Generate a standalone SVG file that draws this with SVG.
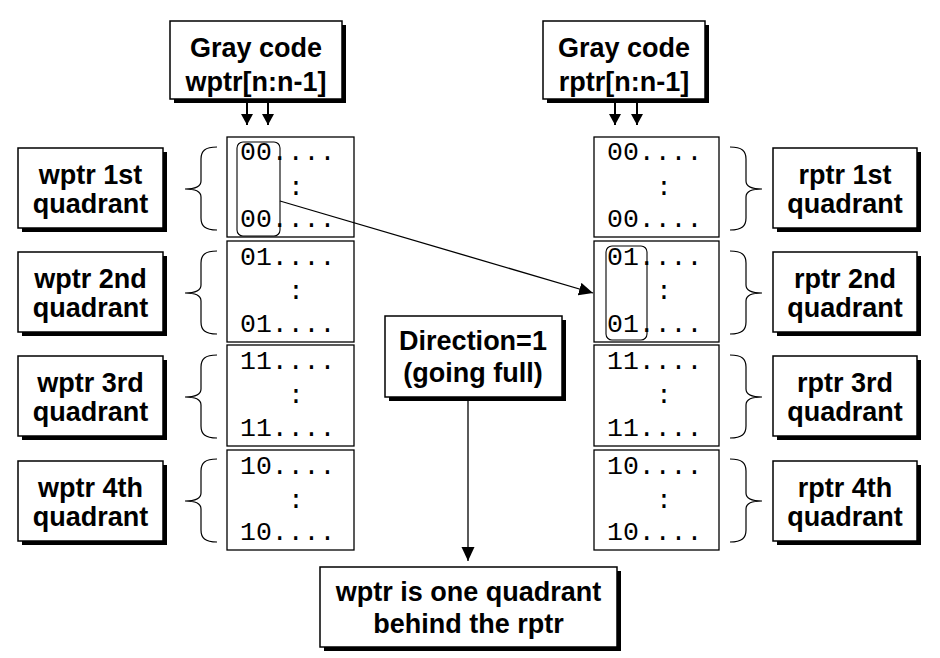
<svg xmlns="http://www.w3.org/2000/svg" width="940" height="658" viewBox="0 0 940 658">
<style>
.bx{fill:#fff;stroke:#000;stroke-width:1.5}
.sh{fill:#000}
.lbl{font-family:"Liberation Sans",Arial,sans-serif;font-weight:bold;font-size:27px;fill:#000;text-anchor:middle}
.mem{fill:#fff;stroke:#000;stroke-width:1.3}
.mono{font-family:"Liberation Mono","Courier New",monospace;font-size:26.5px;fill:#000}
.col{font-family:"Liberation Mono","Courier New",monospace;font-size:26.5px;fill:#000;text-anchor:middle}
.br{fill:none;stroke:#000;stroke-width:1.2}
.hl{fill:none;stroke:#000;stroke-width:1.1}
.cn{fill:none;stroke:#000;stroke-width:1.3}
.cb{fill:none;stroke:#000;stroke-width:2}
</style>
<defs>
<path id="brace" d="M32,0 C20,0 16,4 16,12 L16,34 C16,40 10,42 0,42 C10,42 16,44 16,50 L16,71 C16,79 20,83 32,83"/>
<marker id="ah" markerUnits="userSpaceOnUse" markerWidth="15" markerHeight="14" refX="14" refY="6.5" orient="auto">
<path d="M0,0 L14,6.5 L0,13 z" fill="#000"/>
</marker>
<marker id="as" markerUnits="userSpaceOnUse" markerWidth="12" markerHeight="13" refX="11" refY="6" orient="auto">
<path d="M0,0 L11,6 L0,12 z" fill="#000"/>
</marker>
</defs>
<rect width="940" height="658" fill="#fff"/>

<g id="gray-wptr">
<rect class="sh" x="174" y="25" width="172" height="78"/>
<rect class="bx" x="170" y="21" width="172" height="78"/>
<text class="lbl" x="256" y="57">Gray code</text>
<text class="lbl" x="256" y="91">wptr[n:n-1]</text>
</g>
<g id="gray-rptr">
<rect class="sh" x="547" y="25" width="162" height="78"/>
<rect class="bx" x="543" y="21" width="162" height="78"/>
<text class="lbl" x="624" y="57">Gray code</text>
<text class="lbl" x="624" y="91">rptr[n:n-1]</text>
</g>

<g id="wmem">
<rect class="mem" x="227" y="137" width="127" height="100"/>
<rect class="mem" x="227" y="241" width="127" height="101"/>
<rect class="mem" x="227" y="345" width="127" height="101"/>
<rect class="mem" x="227" y="450" width="127" height="100"/>
<text class="mono" x="240" y="160">00....</text>
<text class="col" x="296" y="195">:</text>
<text class="mono" x="240" y="227">00....</text>
<text class="mono" x="240" y="265">01....</text>
<text class="col" x="296" y="299">:</text>
<text class="mono" x="240" y="332">01....</text>
<text class="mono" x="240" y="369">11....</text>
<text class="col" x="296" y="403">:</text>
<text class="mono" x="240" y="436">11....</text>
<text class="mono" x="240" y="474">10....</text>
<text class="col" x="296" y="508">:</text>
<text class="mono" x="240" y="540">10....</text>
<rect class="hl" x="237" y="142" width="43" height="94" rx="6"/>
</g>

<g id="rmem">
<rect class="mem" x="594" y="137" width="125" height="100"/>
<rect class="mem" x="594" y="241" width="125" height="101"/>
<rect class="mem" x="594" y="345" width="125" height="101"/>
<rect class="mem" x="594" y="450" width="125" height="100"/>
<text class="mono" x="607" y="160">00....</text>
<text class="col" x="664" y="195">:</text>
<text class="mono" x="607" y="227">00....</text>
<text class="mono" x="607" y="265">01....</text>
<text class="col" x="664" y="299">:</text>
<text class="mono" x="607" y="332">01....</text>
<text class="mono" x="607" y="369">11....</text>
<text class="col" x="664" y="403">:</text>
<text class="mono" x="607" y="436">11....</text>
<text class="mono" x="607" y="474">10....</text>
<text class="col" x="664" y="508">:</text>
<text class="mono" x="607" y="540">10....</text>
<rect class="hl" x="606" y="246" width="41" height="94" rx="6"/>
</g>

<g id="braces">
<use href="#brace" class="br" transform="translate(185,147)"/>
<use href="#brace" class="br" transform="translate(185,251)"/>
<use href="#brace" class="br" transform="translate(185,355)"/>
<use href="#brace" class="br" transform="translate(185,459)"/>
<use href="#brace" class="br" transform="translate(762,147) scale(-1,1)"/>
<use href="#brace" class="br" transform="translate(762,251) scale(-1,1)"/>
<use href="#brace" class="br" transform="translate(762,355) scale(-1,1)"/>
<use href="#brace" class="br" transform="translate(762,459) scale(-1,1)"/>
</g>

<g id="wq1"><rect class="sh" x="22" y="152" width="145" height="80"/><rect class="bx" x="18" y="148" width="145" height="80"/>
<text class="lbl" x="90.5" y="184">wptr 1st</text><text class="lbl" x="90.5" y="213">quadrant</text></g>
<g id="wq2"><rect class="sh" x="22" y="256" width="145" height="80"/><rect class="bx" x="18" y="252" width="145" height="80"/>
<text class="lbl" x="90.5" y="288">wptr 2nd</text><text class="lbl" x="90.5" y="317">quadrant</text></g>
<g id="wq3"><rect class="sh" x="22" y="360" width="145" height="80"/><rect class="bx" x="18" y="356" width="145" height="80"/>
<text class="lbl" x="90.5" y="392">wptr 3rd</text><text class="lbl" x="90.5" y="421">quadrant</text></g>
<g id="wq4"><rect class="sh" x="22" y="465" width="145" height="80"/><rect class="bx" x="18" y="461" width="145" height="80"/>
<text class="lbl" x="90.5" y="497">wptr 4th</text><text class="lbl" x="90.5" y="526">quadrant</text></g>

<g id="rq1"><rect class="sh" x="777" y="152" width="144" height="80"/><rect class="bx" x="773" y="148" width="144" height="80"/>
<text class="lbl" x="845" y="184">rptr 1st</text><text class="lbl" x="845" y="213">quadrant</text></g>
<g id="rq2"><rect class="sh" x="777" y="256" width="144" height="80"/><rect class="bx" x="773" y="252" width="144" height="80"/>
<text class="lbl" x="845" y="288">rptr 2nd</text><text class="lbl" x="845" y="317">quadrant</text></g>
<g id="rq3"><rect class="sh" x="777" y="360" width="144" height="80"/><rect class="bx" x="773" y="356" width="144" height="80"/>
<text class="lbl" x="845" y="392">rptr 3rd</text><text class="lbl" x="845" y="421">quadrant</text></g>
<g id="rq4"><rect class="sh" x="777" y="465" width="144" height="80"/><rect class="bx" x="773" y="461" width="144" height="80"/>
<text class="lbl" x="845" y="497">rptr 4th</text><text class="lbl" x="845" y="526">quadrant</text></g>

<g id="direction"><rect class="sh" x="389" y="320" width="177" height="81"/><rect class="bx" x="385" y="316" width="177" height="81"/>
<text class="lbl" x="473" y="350">Direction=1</text><text class="lbl" x="473" y="382">(going full)</text></g>

<g id="result"><rect class="sh" x="324" y="571" width="297" height="80"/><rect class="bx" x="320" y="567" width="297" height="80"/>
<text class="lbl" x="468.5" y="601">wptr is one quadrant</text><text class="lbl" x="468.5" y="633">behind the rptr</text></g>

<g id="connectors">
<line class="cb" x1="247" y1="103" x2="247" y2="125" marker-end="url(#as)"/>
<line class="cb" x1="268" y1="103" x2="268" y2="125" marker-end="url(#as)"/>
<line class="cb" x1="615" y1="103" x2="615" y2="125" marker-end="url(#as)"/>
<line class="cb" x1="637" y1="103" x2="637" y2="125" marker-end="url(#as)"/>
<line class="cn" x1="280" y1="201" x2="593" y2="293" marker-end="url(#ah)"/>
<line class="cn" x1="468" y1="401" x2="468" y2="561" marker-end="url(#ah)"/>
</g>
</svg>
